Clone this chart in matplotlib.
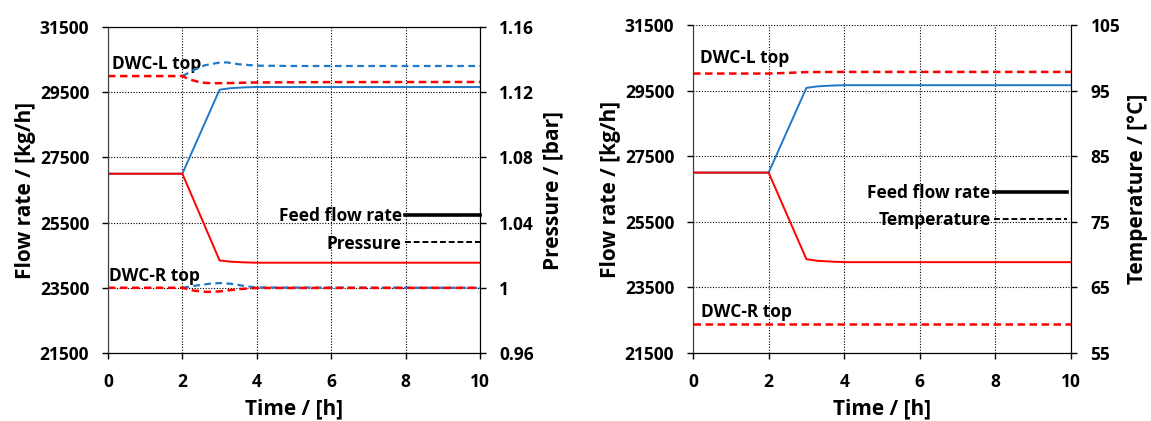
import matplotlib.pyplot as plt
from matplotlib.lines import Line2D
from matplotlib.ticker import FuncFormatter

plt.rcParams["font.family"] = ["Open Sans", "DejaVu Sans"]
plt.rcParams["font.weight"] = "bold"

BLUE = "#1f78c8"
RED = "#ff0000"

# ---- feed flow rate (kg/h) ----
t_flow = [0, 2, 3, 3.3, 3.7, 4, 6, 8, 10]
flow_L_blue = [27000, 27000, 29577, 29625, 29650, 29660, 29660, 29660, 29660]
flow_L_red = [27000, 27000, 24340, 24300, 24280, 24270, 24270, 24270, 24270]
flow_R_blue = [27000, 27000, 29583, 29630, 29655, 29665, 29665, 29665, 29665]
flow_R_red = [27000, 27000, 24360, 24310, 24285, 24270, 24270, 24270, 24270]

# ---- pressure (bar), left figure ----
t_pL_blue = [2, 2.3, 2.6, 3.0, 3.2, 3.5, 4, 5, 10]
p_L_blue = [1.1299, 1.1335, 1.1365, 1.1382, 1.1383, 1.1372, 1.1363, 1.1361, 1.1361]
t_pL_red = [0, 2, 2.2, 2.5, 2.8, 3.2, 4, 6, 10]
p_L_red = [1.1299, 1.1299, 1.1278, 1.1259, 1.1255, 1.1256, 1.1260, 1.1262, 1.1263]
t_pR_blue = [2, 2.4, 2.8, 3.0, 3.3, 3.7, 4, 10]
p_R_blue = [1.0, 1.0015, 1.0027, 1.0029, 1.0025, 1.0010, 1.0002, 1.0]
t_pR_red = [0, 2, 2.3, 2.65, 3.0, 3.5, 4, 10]
p_R_red = [1.0, 1.0, 0.9983, 0.9975, 0.9978, 0.9992, 0.9999, 1.0]

# ---- temperature (C), right figure ----
t_TL = [0, 2, 2.5, 3, 4, 10]
T_L_red = [97.6, 97.6, 97.7, 97.82, 97.85, 97.85]
t_TR = [0, 10]
T_R_red = [59.4, 59.4]

x_ticks = [0, 2, 4, 6, 8, 10]
flow_ticks = [21500, 23500, 25500, 27500, 29500, 31500]
p_ticks = [0.96, 1.0, 1.04, 1.08, 1.12, 1.16]
T_ticks = [55, 65, 75, 85, 95, 105]

TICK_FS = 12.5
LABEL_FS = 15
TEXT_FS = 12.5


def style_axes(ax, ax2, top_solid):
    ax.set_xlim(0, 10)
    ax.set_ylim(21500, 31500)
    ax.set_xticks(x_ticks)
    ax.set_yticks(flow_ticks)
    ax.grid(True, color="black", linestyle=(0, (1, 1.5)), linewidth=0.8)
    ax.tick_params(direction="out", length=4.5, width=1, labelsize=TICK_FS, pad=9)
    ax.tick_params(axis="x", pad=10)
    ax2.tick_params(direction="out", length=4.5, width=1, labelsize=TICK_FS, pad=9.5)
    ax.spines["left"].set_color("#404040")
    ax.spines["top"].set_visible(top_solid)
    ax2.spines["top"].set_visible(top_solid)
    ax2.spines["left"].set_color("#404040")
    ax.set_xlabel("Time / [h]", fontsize=LABEL_FS, fontweight="bold", labelpad=5)
    ax.set_ylabel("Flow rate / [kg/h]", fontsize=LABEL_FS, fontweight="bold", labelpad=3)


fig = plt.figure(figsize=(11.51, 4.21), dpi=100)

# ---------------- left panel ----------------
ax1 = fig.add_axes([0.0938, 0.1615, 0.3232, 0.7743])
ax1b = ax1.twinx()
ax1.plot(t_flow, flow_L_blue, color=BLUE, lw=1.4)
ax1.plot(t_flow, flow_L_red, color=RED, lw=1.4)
ax1b.plot(t_pL_blue, p_L_blue, color=BLUE, lw=1.6, dashes=(3, 2))
ax1b.plot(t_pL_red, p_L_red, color=RED, lw=1.8, dashes=(3, 1.8))
ax1b.plot(t_pR_blue, p_R_blue, color=BLUE, lw=1.6, dashes=(3, 2))
ax1b.plot(t_pR_red, p_R_red, color=RED, lw=1.8, dashes=(3, 1.8))
ax1b.set_ylim(0.96, 1.16)
ax1b.set_yticks(p_ticks)
ax1b.yaxis.set_major_formatter(FuncFormatter(lambda v, _: f"{v:g}"))
ax1b.set_ylabel("Pressure / [bar]", fontsize=LABEL_FS, fontweight="bold", labelpad=6)
style_axes(ax1, ax1b, True)
ax1.text(0.12, 30374, "DWC-L top", fontsize=TEXT_FS, fontweight="bold", va="center")
ax1.text(0.03, 23871, "DWC-R top", fontsize=TEXT_FS, fontweight="bold", va="center")

handles = [Line2D([], [], color="black", lw=2.6),
           Line2D([], [], color="black", lw=1.4, dashes=(3, 1.5))]
leg = ax1.legend(handles, ["Feed flow rate", "Pressure"], loc="upper right",
                 bbox_to_anchor=(1.0, 0.448), frameon=False, markerfirst=False,
                 fontsize=TEXT_FS, handlelength=4.3, handletextpad=0.2,
                 borderpad=0, borderaxespad=0, labelspacing=0.55)
for txt in leg.get_texts():
    txt.set_fontweight("bold")

# ---------------- right panel ----------------
ax2 = fig.add_axes([0.6021, 0.1615, 0.3284, 0.7791])
ax2b = ax2.twinx()
ax2.plot(t_flow, flow_R_blue, color=BLUE, lw=1.4)
ax2.plot(t_flow, flow_R_red, color=RED, lw=1.4)
ax2b.plot(t_TL, T_L_red, color=RED, lw=1.8, dashes=(3, 1.8))
ax2b.plot(t_TR, T_R_red, color=RED, lw=1.8, dashes=(3, 1.8))
ax2b.set_ylim(55, 105)
ax2b.set_yticks(T_ticks)
ax2b.set_ylabel("Temperature / [°C]", fontsize=LABEL_FS, fontweight="bold", labelpad=5)
style_axes(ax2, ax2b, False)
ax2.text(0.19, 30496, "DWC-L top", fontsize=TEXT_FS, fontweight="bold", va="center")
ax2.text(0.22, 22748, "DWC-R top", fontsize=TEXT_FS, fontweight="bold", va="center")

handles = [Line2D([], [], color="black", lw=2.6),
           Line2D([], [], color="black", lw=1.4, dashes=(3, 1.5))]
leg = ax2.legend(handles, ["Feed flow rate", "Temperature"], loc="upper right",
                 bbox_to_anchor=(0.989, 0.516), frameon=False, markerfirst=False,
                 fontsize=TEXT_FS, handlelength=4.2, handletextpad=0.2,
                 borderpad=0, borderaxespad=0, labelspacing=0.55)
for txt in leg.get_texts():
    txt.set_fontweight("bold")

fig.savefig("out.png", dpi=100)
